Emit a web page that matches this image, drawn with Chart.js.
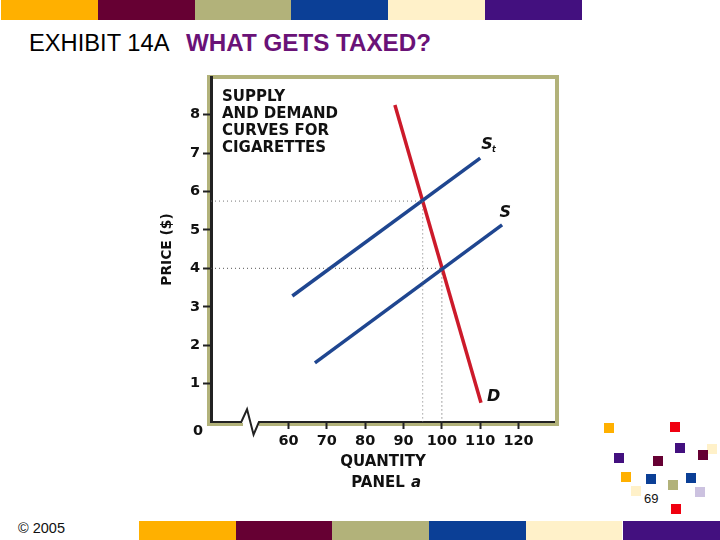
<!DOCTYPE html>
<html>
<head>
<meta charset="utf-8">
<script src="https://cdn.jsdelivr.net/npm/chart.js@4/dist/chart.umd.min.js"></script>
<style>
html, body { margin: 0; padding: 0; background: #fff; }
#slide { position: relative; width: 720px; height: 540px; overflow: hidden; font-family: "Liberation Sans", Arial, sans-serif; }
#slide div { position: absolute; }
canvas { position: absolute; left: 0; top: 0; }
.title { top: 29px; line-height: 28px; white-space: nowrap; }
</style>
</head>
<body>
<div id="slide">
  <div style="left:207px;top:75px;width:352px;height:4px;background:#b2b27a"></div>
  <div style="left:207px;top:75px;width:4px;height:351px;background:#b2b27a"></div>
  <div style="left:555px;top:75px;width:4px;height:351px;background:#b2b27a"></div>
  <div style="left:207px;top:423px;width:36px;height:3px;background:#b2b27a"></div>
  <div style="left:259px;top:423px;width:300px;height:3px;background:#b2b27a"></div>
  <div class="title" style="left:29px;color:#000;font-size:23.7px">EXHIBIT 14A</div>
  <div class="title" style="left:186px;color:#6a1277;font-weight:bold;font-size:24.2px">WHAT GETS TAXED?</div>
  <div style="left:18px;top:520px;font-size:14.5px;line-height:16px;color:#111">© 2005</div>
  <div style="left:644px;top:491px;font-size:13px;line-height:15px;color:#111">69</div>
  <canvas id="chart" width="720" height="540"></canvas>
</div>
<script>
// slide decoration
const palette = ['#ffb000', '#660033', '#b2b27a', '#0b3f96', '#fff1c9', '#43107f'];
const squares = [
  [609, 428, '#ffb000'], [675, 427, '#f00010'], [680, 448, '#43107f'], [703, 455, '#660033'],
  [712, 449, '#fff1c9'], [619, 458, '#43107f'], [658, 461, '#660033'], [626, 477, '#ffb000'],
  [651, 479, '#0b3f96'], [691, 478, '#0b3f96'], [673, 485, '#b2b27a'], [636, 491, '#fff1c9'],
  [700, 492, '#ccc2e0'], [676, 509, '#f00010']
];

// chart data
const xTicks = [60, 70, 80, 90, 100, 110, 120];
const yTicks = [0, 1, 2, 3, 4, 5, 6, 7, 8];
const demandQty = [87.75, 110.2];
const demandPrice = [8.25, 0.5];
const taxedSupplyQty = [61, 110];
const taxedSupplyPrice = [3.28, 6.87];
const supplyQty = [66.9, 115.7];
const supplyPrice = [1.54, 5.13];
const taxedGuideQty = [39.8, 95, 95];
const taxedGuidePrice = [5.75, 5.75, 0];
const baseGuideQty = [39.8, 100, 100];
const baseGuidePrice = [4, 4, 0];
const axisBreakQty = [39.8, 47.7, 49.2, 50.9, 52.3, 129.5];
const axisBreakPrice = [0, 0, 0.33, -0.33, 0, 0];

const bars = document.getElementById('slide');
function addBlock(left, top, w, h, color) {
  const el = document.createElement('div');
  el.style.cssText = `left:${left}px;top:${top}px;width:${w}px;height:${h}px;background:${color}`;
  bars.insertBefore(el, bars.firstChild);
}
palette.forEach((c, i) => {
  addBlock(1 + i * 96.8, 0, 96.8, 20, c);
  addBlock(139 + i * 96.7, 521, i === 5 ? 100 : 96.7, 19, c);
});
squares.forEach(s => addBlock(s[0] - 5, s[1] - 5, 10, 10, s[2]));

const zip = (xs, ys) => xs.map((x, i) => ({ x, y: ys[i] }));
const labelFont = '"DejaVu Sans", sans-serif';

// text that sits on the plot: curve names, the caption and the offset zero
const notes = {
  id: 'notes',
  afterDraw(chart) {
    const { ctx, scales: { x, y } } = chart;
    ctx.save();
    ctx.fillStyle = '#111';
    ctx.textBaseline = 'middle';
    ctx.textAlign = 'left';
    ctx.font = 'bold 15px ' + labelFont;
    ['SUPPLY', 'AND DEMAND', 'CURVES FOR', 'CIGARETTES'].forEach((line, i) => {
      ctx.fillText(line, 222, 97 + i * 17);
    });
    ctx.textAlign = 'center';
    ctx.fillText('PANEL', 378, 483);
    ctx.font = 'bold 14.5px ' + labelFont;
    ctx.fillText('0', 198, y.getPixelForValue(0) + 9);
    ctx.font = 'italic bold 15px ' + labelFont;
    ctx.fillText('a', 416, 483);
    ctx.font = 'italic bold 16px ' + labelFont;
    ctx.fillText('S', x.getPixelForValue(111.8), y.getPixelForValue(7.21));
    ctx.fillText('S', x.getPixelForValue(116.5), y.getPixelForValue(5.44));
    ctx.fillText('D', x.getPixelForValue(113.5), y.getPixelForValue(0.66));
    ctx.font = 'italic bold 8px ' + labelFont;
    ctx.fillText('t', x.getPixelForValue(113.6), y.getPixelForValue(7.07));
    ctx.restore();
  }
};

const line = (data, color, width, dash) => ({
  data, borderColor: color, borderWidth: width, borderDash: dash || [],
  showLine: true, pointRadius: 0, tension: 0, clip: false, borderCapStyle: 'butt'
});

new Chart(document.getElementById('chart').getContext('2d'), {
  type: 'scatter',
  plugins: [notes],
  data: {
    datasets: [
      line(zip(taxedGuideQty, taxedGuidePrice), '#777', 1, [1, 3]),
      line(zip(baseGuideQty, baseGuidePrice), '#555', 1, [1, 3]),
      line(zip(axisBreakQty, axisBreakPrice), '#222', 2),
      line(zip(taxedSupplyQty, taxedSupplyPrice), '#1f4690', 3.5),
      line(zip(supplyQty, supplyPrice), '#1f4690', 3.5),
      line(zip(demandQty, demandPrice), '#cc1a2a', 3.5)
    ]
  },
  options: {
    responsive: false,
    animation: false,
    devicePixelRatio: 1,
    layout: { padding: { left: 155, right: 165, top: 77, bottom: 69 } },
    plugins: { legend: { display: false }, tooltip: { enabled: false }, title: { display: false } },
    scales: {
      x: {
        type: 'linear',
        min: 39.8,
        max: 129.5,
        afterBuildTicks: s => { s.ticks = xTicks.map(value => ({ value })); },
        afterFit: s => { s.height = 49; },
        border: { display: false },
        grid: { drawOnChartArea: false, tickLength: 7, tickColor: '#222', tickWidth: 2 },
        ticks: { color: '#111', font: { family: labelFont, size: 14.5, weight: 'bold' }, padding: 4, maxRotation: 0, autoSkip: false },
        title: { display: true, text: 'QUANTITY', color: '#111', font: { family: labelFont, size: 15, weight: 'bold' }, padding: { top: 0, bottom: 0 } }
      },
      y: {
        min: 0,
        max: 8.98,
        afterBuildTicks: s => { s.ticks = yTicks.map(value => ({ value })); },
        afterFit: s => { s.width = 56; },
        border: { color: '#222', width: 3 },
        grid: {
          drawOnChartArea: false,
          tickLength: 8,
          tickWidth: 2,
          tickColor: c => (c.tick && c.tick.value === 0 ? 'rgba(0,0,0,0)' : '#222')
        },
        ticks: {
          color: '#111',
          font: { family: labelFont, size: 14.5, weight: 'bold' },
          padding: 3,
          autoSkip: false,
          callback: v => (v === 0 ? '' : v)
        },
        title: { display: true, text: 'PRICE ($)', color: '#111', font: { family: labelFont, size: 13.8, weight: 'bold' }, padding: { top: 4, bottom: 0 } }
      }
    }
  }
});
</script>
</body>
</html>
